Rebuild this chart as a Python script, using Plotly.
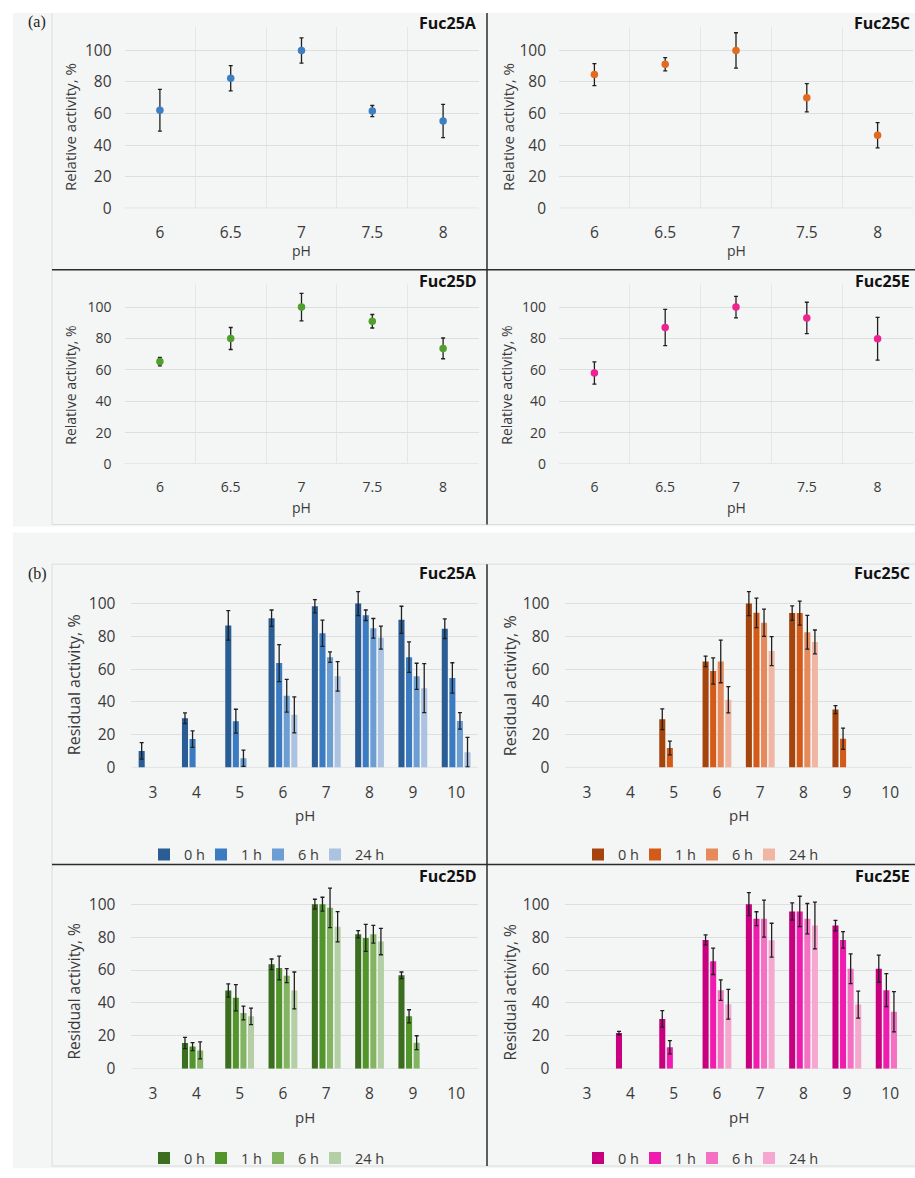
import plotly.graph_objects as go

W, H = 915, 1178

# ---------------- data: panel (a) pH optimum ----------------
ph_a = [6, 6.5, 7, 7.5, 8]
a_fuc25A = [62.1, 82.4, 100, 61.6, 55.3]
a_fuc25A_err = [13.2, 8, 8, 3.5, 10.5]
a_fuc25C = [84.7, 91.2, 100, 70, 46.3]
a_fuc25C_err = [7, 4.2, 11.2, 9, 8]
a_fuc25D = [65.3, 80, 100, 91, 73.7]
a_fuc25D_err = [2.7, 7, 8.8, 4.3, 6.6]
a_fuc25E = [58, 87, 100, 93.1, 79.8]
a_fuc25E_err = [7.1, 11.5, 6.8, 10, 13.6]

# ---------------- data: panel (b) pH stability ----------------
ph_b = [3, 4, 5, 6, 7, 8, 9, 10]
times = ["0 h", "1 h", "6 h", "24 h"]
N = None
b_fuc25A = [
    [10.1, 30, 86.7, 91.1, 98.4, 100, 90.1, 84.7],
    [N, 17.3, 28.2, 63.7, 81.9, 92.9, 67.3, 54.6],
    [N, N, 5.6, 43.8, 67.3, 84.9, 55.6, 28.4],
    [N, N, N, 32.1, 55.6, 79.2, 48.4, 9.3],
]
b_fuc25A_err = [
    [5, 3.3, 9, 5, 4, 7.3, 8.3, 6],
    [N, 5, 7.3, 11.3, 8, 3.2, 9.3, 9.3],
    [N, N, 5, 10, 3.2, 6, 8, 5],
    [N, N, N, 11, 9, 7, 15, 9],
]
b_fuc25C = [
    [N, N, 29.4, 64.7, 100, 94.2, 35.3, N],
    [N, N, 11.9, 58.9, 94.4, 94.2, 17.5, N],
    [N, N, N, 64.7, 88.3, 82.5, N, N],
    [N, N, N, 41.3, 71, 76.6, N, N],
]
b_fuc25C_err = [
    [N, N, 6.3, 3.2, 7.3, 4.4, 2.4, N],
    [N, N, 4.2, 8, 9, 7.3, 6.5, N],
    [N, N, N, 13, 8.3, 10.3, N, N],
    [N, N, N, 8, 8.9, 7.3, N, N],
]
b_fuc25D = [
    [N, 15.7, 47.6, 63.5, 100, 81.7, 56.8, N],
    [N, 13.5, 43.2, 61.2, 100, 79.5, 31.9, N],
    [N, 11.2, 33.9, 56.6, 97.8, 81.7, 15.9, N],
    [N, N, 31.9, 47.6, 86.3, 77.3, N, N],
]
b_fuc25D_err = [
    [N, 3.4, 4, 3.2, 3, 2.2, 2, N],
    [N, 2.4, 8, 7.2, 4.2, 8.2, 4, N],
    [N, 5.2, 4.2, 4.2, 12, 5.4, 4.2, N],
    [N, N, 5, 11.2, 9.2, 8, N, N],
]
b_fuc25E = [
    [N, 21.7, 30.3, 78.3, 100, 95.6, 87, 60.8],
    [N, N, 13.1, 65.3, 91.2, 95.6, 78.3, 47.8],
    [N, N, N, 47.8, 91.2, 91.2, 60.8, 34.7],
    [N, N, N, 39.2, 78.1, 87, 39, N],
]
b_fuc25E_err = [
    [N, 1, 5, 3, 7, 5.2, 3.2, 8.2],
    [N, N, 4, 8, 4.2, 9.2, 5, 10],
    [N, N, N, 6.2, 11.2, 9.2, 9, 12.2],
    [N, N, N, 9, 10.3, 14.2, 8.2, N],
]

marker_colors = {"A": "#3d7ec4", "C": "#e2691d", "D": "#51a02d", "E": "#ee2290"}
bar_colors = {
    "A": ["#2b5d95", "#3a7bc2", "#6c9dd3", "#abc2e0"],
    "C": ["#a6440e", "#d45b17", "#e68a5c", "#efb7a3"],
    "D": ["#3b6e1f", "#51952b", "#82b462", "#b4cfa5"],
    "E": ["#c8007f", "#f01cb0", "#f470c2", "#f5a7d0"],
}

FONT = "'Open Sans', 'Noto Sans', sans-serif"
TXT = "#3a3a3a"
GRID = "#dedede"
BG = "#f4f5f5"


def xd(a, b):
    return [a / W, b / W]


def yd(top, bottom):
    return [1 - bottom / H, 1 - top / H]


def px(x):
    return x / W


def py(y):
    return 1 - y / H


fig = go.Figure()
layout = {}

# ---------- panel (a) ----------
a_sets = [
    ("A", a_fuc25A, a_fuc25A_err, (124.5, 478.5), (27, 210), 15.5),
    ("C", a_fuc25C, a_fuc25C_err, (559, 913), (27, 210), 15.5),
    ("D", a_fuc25D, a_fuc25D_err, (124.5, 478.5), (286, 468), 14),
    ("E", a_fuc25E, a_fuc25E_err, (559, 913), (286, 468), 14),
]
ax = 1
for key, vals, errs, xdom, ydom, fs in a_sets:
    sfx = "" if ax == 1 else str(ax)
    fig.add_trace(go.Scatter(
        x=ph_a, y=vals, mode="markers",
        marker=dict(color=marker_colors[key], size=7.5),
        error_y=dict(type="data", array=errs, color="#1f1f1f", thickness=1.3, width=2),
        xaxis="x" + sfx, yaxis="y" + sfx, showlegend=False,
    ))
    layout["xaxis" + sfx] = dict(
        domain=xd(*xdom), anchor="y" + sfx, range=[5.75, 8.25],
        tickmode="array", tickvals=ph_a, ticktext=["6", "6.5", "7", "7.5", "8"],
        showgrid=False, zeroline=False, showline=False, ticks="",
        tickfont=dict(size=fs, color=TXT), ticklabelstandoff=13,
        minor=dict(tick0=5.75, dtick=0.5, showgrid=True, gridcolor="#e6e6e6", gridwidth=1, ticks=""),
    )
    layout["yaxis" + sfx] = dict(
        domain=yd(*ydom), anchor="x" + sfx, range=[0, 115],
        tickmode="array", tickvals=[0, 20, 40, 60, 80, 100],
        showgrid=True, gridcolor=GRID, gridwidth=1, zeroline=False, showline=False, ticks="",
        tickfont=dict(size=fs, color=TXT), ticklabelstandoff=12,
    )
    ax += 1

# ---------- panel (b) ----------
b_sets = [
    ("A", b_fuc25A, b_fuc25A_err, (131.4, 477.8), (584, 774)),
    ("C", b_fuc25C, b_fuc25C_err, (565.4, 911.8), (584, 774)),
    ("D", b_fuc25D, b_fuc25D_err, (131.4, 477.8), (887, 1078)),
    ("E", b_fuc25E, b_fuc25E_err, (565.4, 911.8), (887, 1078)),
]
leg_pos = [(144, 862), (578, 862), (144, 1168), (578, 1168)]
leg_widths = [12, 12, 12, 34]
for i, (key, series, errs, xdom, ydom) in enumerate(b_sets):
    sfx = str(ax)
    leg = "legend" if i == 0 else "legend" + str(i + 1)
    for t in range(4):
        fig.add_trace(go.Bar(
            x=ph_b, y=series[t], name=times[t],
            marker=dict(color=bar_colors[key][t], line=dict(width=0)),
            error_y=dict(type="data", array=errs[t], color="#1f1f1f", thickness=1.3, width=2),
            xaxis="x" + sfx, yaxis="y" + sfx, legend=leg, legendwidth=leg_widths[t],
        ))
    layout["xaxis" + sfx] = dict(
        domain=xd(*xdom), anchor="y" + sfx, range=[2.5, 10.5],
        tickmode="array", tickvals=ph_b,
        showgrid=False, zeroline=False, showline=False, ticks="",
        tickfont=dict(size=15.5, color=TXT), ticklabelstandoff=14,
    )
    layout["yaxis" + sfx] = dict(
        domain=yd(*ydom), anchor="x" + sfx, range=[0, 115],
        tickmode="array", tickvals=[0, 20, 40, 60, 80, 100],
        showgrid=True, gridcolor=GRID, gridwidth=1, zeroline=False, showline=False, ticks="",
        tickfont=dict(size=15.5, color=TXT), ticklabelstandoff=15,
    )
    lx, ly = leg_pos[i]
    layout[leg] = dict(
        orientation="h", x=px(lx), y=py(ly), xanchor="left", yanchor="middle",
        font=dict(size=14.5, color=TXT, family=FONT), bgcolor="rgba(0,0,0,0)",
        itemwidth=30, traceorder="normal", entrywidthmode="pixels",
    )
    ax += 1

# ---------- backgrounds and separators ----------
shapes = [
    dict(type="rect", xref="paper", yref="paper", x0=px(13), x1=px(915), y0=py(531), y1=py(13),
         fillcolor=BG, line=dict(width=0), layer="below"),
    dict(type="rect", xref="paper", yref="paper", x0=px(13), x1=px(915), y0=py(1178), y1=py(537),
         fillcolor=BG, line=dict(width=0), layer="below"),
    dict(type="line", xref="paper", yref="paper", x0=px(52), x1=px(52), y0=py(529), y1=py(13),
         line=dict(color="#dcdcdc", width=1)),
    dict(type="line", xref="paper", yref="paper", x0=px(52), x1=px(915), y0=py(529), y1=py(529),
         line=dict(color="#dcdcdc", width=1)),
    dict(type="line", xref="paper", yref="paper", x0=px(52), x1=px(52), y0=py(1176), y1=py(569),
         line=dict(color="#dcdcdc", width=1)),
    dict(type="line", xref="paper", yref="paper", x0=px(52), x1=px(915), y0=py(569), y1=py(569),
         line=dict(color="#dcdcdc", width=1)),
    dict(type="line", xref="paper", yref="paper", x0=px(52), x1=px(915), y0=py(1176), y1=py(1176),
         line=dict(color="#dcdcdc", width=1)),
    # black dividers
    dict(type="line", xref="paper", yref="paper", x0=px(487), x1=px(487), y0=py(529), y1=py(13),
         line=dict(color="#2b2b2b", width=1.5)),
    dict(type="line", xref="paper", yref="paper", x0=px(52), x1=px(915), y0=py(272), y1=py(272),
         line=dict(color="#2b2b2b", width=1.5)),
    dict(type="line", xref="paper", yref="paper", x0=px(487), x1=px(487), y0=py(1176), y1=py(569),
         line=dict(color="#2b2b2b", width=1.5)),
    dict(type="line", xref="paper", yref="paper", x0=px(52), x1=px(915), y0=py(872), y1=py(872),
         line=dict(color="#2b2b2b", width=1.5)),
]
# zero lines of axes
for sfx in ["", "2", "3", "4", "5", "6", "7", "8"]:
    shapes.append(dict(type="line", xref="x" + sfx + " domain", yref="y" + sfx,
                       x0=0, x1=1, y0=0, y1=0, line=dict(color="#d4d4d4", width=1), layer="below"))

# ---------- text ----------
ann = []


def text(x, y, s, size, color=TXT, bold=False, xanchor="center", angle=0, family=FONT):
    ann.append(dict(
        xref="paper", yref="paper", x=px(x), y=py(y), text=("<b>%s</b>" % s) if bold else s,
        showarrow=False, xanchor=xanchor, yanchor="middle", textangle=angle,
        font=dict(size=size, color=color, family=family),
    ))


SERIF = "'Liberation Serif', 'DejaVu Serif', serif"
text(26, 22, "(a)", 16, color="#222", xanchor="left", family=SERIF)
text(26, 579, "(b)", 16, color="#222", xanchor="left", family=SERIF)

for label, x, y in [("Fuc25A", 479, 23), ("Fuc25C", 912, 23), ("Fuc25D", 479, 283), ("Fuc25E", 912, 283),
                    ("Fuc25A", 479, 578), ("Fuc25C", 912, 578), ("Fuc25D", 479, 883), ("Fuc25E", 912, 883)]:
    text(x, y, label, 16, color="#111", bold=True, xanchor="right")

for x, y, fs in [(70, 128, 15), (508, 128, 15), (71, 389, 14), (507, 389, 14)]:
    text(x, y, "Relative activity, %", fs, angle=-90)
for x, y in [(301.5, 253), (736, 253), (301.5, 512), (736, 512)]:
    text(x, y, "pH", 14)
for x, y, fs in [(74, 691, 16), (510, 691, 16), (74, 1000, 15.5), (510, 1000, 15.5)]:
    text(x, y, "Residual activity, %", fs, angle=-90)
for x, y in [(304.6, 822), (738.6, 822), (304.6, 1127), (738.6, 1127)]:
    text(x, y, "pH", 15)

fig.update_layout(
    width=W, height=H, margin=dict(l=0, r=0, t=0, b=0),
    paper_bgcolor="white", plot_bgcolor="rgba(0,0,0,0)",
    font=dict(family=FONT, color=TXT),
    barmode="group", bargap=0.3, bargroupgap=0.2,
    shapes=shapes, annotations=ann,
    **layout,
)

fig.write_html(
    "out.html",
    config={"displayModeBar": False},
    post_script="document.body.style.margin='0';document.body.style.overflow='hidden';",
)
